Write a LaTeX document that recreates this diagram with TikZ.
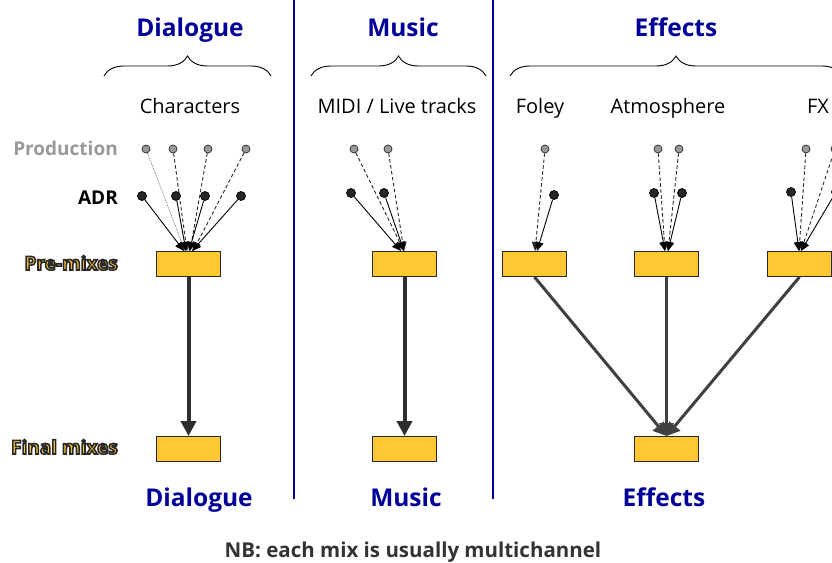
\documentclass[tikz,border=0pt]{standalone}
\usepackage{fontspec}
\setmainfont{Open Sans}
\usetikzlibrary{arrows.meta,decorations.pathreplacing}
\definecolor{tblue}{RGB}{0,0,153}
\definecolor{mixfill}{RGB}{255,199,51}
\definecolor{mixdraw}{RGB}{40,40,40}
\definecolor{prodgray}{RGB}{153,153,153}
\definecolor{thickc}{RGB}{45,45,45}
\definecolor{efxc}{RGB}{64,64,64}
\definecolor{nbc}{RGB}{51,51,51}
\newcommand\outl[1]{\special{pdf:code q 2 Tr 1.6 w 0.16 0.16 0.16 RG 1 0.78 0.2 rg}#1\special{pdf:code Q}}
\tikzset{
  title/.style={font=\fontsize{24.5}{28}\selectfont\bfseries, text=tblue, anchor=base, inner sep=0},
  sub/.style={font=\fontsize{20}{24}\selectfont, text=black, anchor=base, inner sep=0},
  rowlbl/.style={font=\fontsize{19}{22}\selectfont\bfseries, anchor=base east, inner sep=0},
  mixbox/.style={draw=mixdraw, fill=mixfill, line width=1pt, minimum width=64pt, minimum height=25pt, inner sep=0},
  pdot/.style={circle, draw=mixdraw, fill=prodgray, line width=0.7pt, minimum size=8pt, inner sep=0},
  adot/.style={circle, draw=black, fill=black!85, line width=0.7pt, minimum size=9pt, inner sep=0},
  adrline/.style={draw=black, line width=0.9pt, -{Triangle[length=9pt,width=8pt]}},
  prodline/.style={draw=black!85, line width=0.9pt, dash pattern=on 3.5pt off 2.5pt, -{Triangle[length=9pt,width=8pt]}},
  prodfine/.style={draw=black!60, line width=0.7pt, dash pattern=on 0.8pt off 1pt, -{Triangle[length=9pt,width=8pt]}},
  mainarrow/.style={draw=thickc, line width=4pt, -{Triangle[length=15pt,width=15pt]}},
  efxarrow/.style={draw=efxc, line width=3pt, -{Triangle[length=13pt,width=14pt]}},
  sepline/.style={draw=tblue, line width=2pt},
  bracec/.style={draw=black, line width=0.9pt, decorate, decoration={brace, amplitude=20pt}}
}
\begin{document}
\begin{tikzpicture}[x=1pt,y=-1pt]
\useasboundingbox[fill=white] (0,0) rectangle (832,562);

% separators
\draw[sepline] (294,0) -- (294,499);
\draw[sepline] (493,0) -- (493,499);

% titles
\node[title] (tdia) at (190,36) {Dialogue};
\node[title] (tmus) at (403,36) {Music};
\node[title] (teff) at (676,36) {Effects};

% braces
\draw[bracec] (104,76) -- (271,76);
\draw[bracec] (311,76) -- (486,76);
\draw[bracec] (510,76) -- (842,76);

% sub headings
\node[sub] (schar) at (190,113) {Characters};
\node[sub] (smidi) at (397,113) {MIDI / Live tracks};
\node[sub] (sfol) at (540,113) {Foley};
\node[sub] (satm) at (668,113) {Atmosphere};
\node[sub] (sfx) at (818,113) {FX};

% row labels
\node[rowlbl, text=prodgray] (lprod) at (118,155) {Production};
\node[rowlbl, text=black] (ladr) at (118,204) {ADR};
\node[rowlbl, text=mixfill] (lpre) at (118,270) {\outl{Pre-mixes}};
\node[rowlbl, text=mixfill] (lfin) at (118,454) {\outl{Final mixes}};

% pre-mix boxes
\node[mixbox] (dpre) at (188.5,264) {};
\node[mixbox] (mpre) at (404.5,264) {};
\node[mixbox] (fpre) at (534.5,264) {};
\node[mixbox] (apre) at (666.5,264) {};
\node[mixbox] (xpre) at (799.5,264) {};

% final boxes
\node[mixbox] (dfin) at (188.5,449) {};
\node[mixbox] (mfin) at (404.5,449) {};
\node[mixbox] (efin) at (666.5,449) {};

% arrow targets
\coordinate (td1) at (184,251); \coordinate (td2) at (186,251);
\coordinate (td3) at (189,251); \coordinate (td4) at (192,251);
\coordinate (te1) at (185,251); \coordinate (te2) at (187,251);
\coordinate (te3) at (190,251); \coordinate (te4) at (193,251);
\coordinate (tm1) at (401,251); \coordinate (tm2) at (404,251);
\coordinate (tf1) at (535,251); \coordinate (tf2) at (537,251);
\coordinate (ta1) at (665,251); \coordinate (ta2) at (668,251);
\coordinate (tx1) at (799,251); \coordinate (tx2) at (801,251);

% dialogue sources
\node[pdot] (pd1) at (146,149) {};
\node[pdot] (pd2) at (173,149) {};
\node[pdot] (pd3) at (208,149) {};
\node[pdot] (pd4) at (246,149) {};
\node[adot] (ad1) at (142,196) {};
\node[adot] (ad2) at (176,196) {};
\node[adot] (ad3) at (205,196) {};
\node[adot] (ad4) at (241,196) {};
\draw[prodfine] (pd1) -- (te1);
\draw[prodline] (pd2) -- (te2);
\draw[prodline] (pd3) -- (te3);
\draw[prodline] (pd4) -- (te4);
\draw[adrline] (ad1) -- (td1);
\draw[adrline] (ad2) -- (td2);
\draw[adrline] (ad3) -- (td3);
\draw[adrline] (ad4) -- (td4);

% music sources
\node[pdot] (pm1) at (354,149) {};
\node[pdot] (pm2) at (388,149) {};
\node[adot] (am1) at (351,193) {};
\node[adot] (am2) at (384,193) {};
\draw[prodline] (pm1) -- (tm2);
\draw[prodline] (pm2) -- (tm2);
\draw[adrline] (am1) -- (tm1);
\draw[adrline] (am2) -- (tm2);

% foley sources
\node[pdot] (pf1) at (545,149) {};
\node[adot] (af1) at (554,195) {};
\draw[prodline] (pf1) -- (tf1);
\draw[adrline] (af1) -- (tf2);

% atmosphere sources
\node[pdot] (pa1) at (658,149) {};
\node[pdot] (pa2) at (679,149) {};
\node[adot] (aa1) at (654,193) {};
\node[adot] (aa2) at (682,193) {};
\draw[prodline] (pa1) -- (ta1);
\draw[prodline] (pa2) -- (ta2);
\draw[adrline] (aa1) -- (ta1);
\draw[adrline] (aa2) -- (ta2);

% fx sources
\node[pdot] (px1) at (806,149) {};
\node[pdot] (px2) at (835,149) {};
\node[adot] (ax1) at (791,192) {};
\node[adot] (ax2) at (836,192) {};
\draw[prodline] (px1) -- (tx1);
\draw[prodline] (px2) -- (tx2);
\draw[adrline] (ax1) -- (tx1);
\draw[adrline] (ax2) -- (tx2);

% pre to final
\draw[mainarrow] (dpre.south) -- (dfin.north);
\draw[mainarrow] (mpre.south) -- (mfin.north);
\draw[efxarrow] (fpre.south) -- (efin.north);
\draw[efxarrow] (apre.south) -- (efin.north);
\draw[efxarrow] (xpre.south) -- (efin.north);

% bottom labels
\node[title] (bdia) at (199,506) {Dialogue};
\node[title] (bmus) at (406,506) {Music};
\node[title] (beff) at (664,506) {Effects};

\node[font=\fontsize{20.5}{24}\selectfont\bfseries, text=nbc, anchor=base, inner sep=0] (nb) at (413,557) {NB: each mix is usually multichannel};
\end{tikzpicture}
\end{document}
